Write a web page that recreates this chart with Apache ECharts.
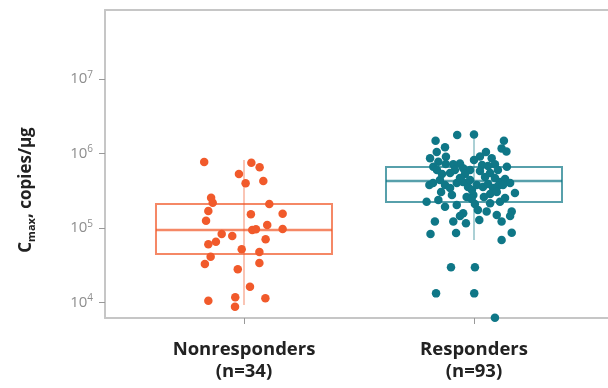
<!DOCTYPE html>
<html>
<head>
<meta charset="utf-8">
<script src="https://cdn.jsdelivr.net/npm/echarts@6/dist/echarts.min.js"></script>
<style>
  html, body { margin: 0; padding: 0; background: #fff; }
  #chart { width: 608px; height: 388px; }
</style>
</head>
<body>
<div id="chart"></div>
<script>
var categories = ['Nonresponders\n(n=34)', 'Responders\n(n=93)'];
var yTicks = [1e4, 1e5, 1e6, 1e7];

// [jittered x position, Cmax copies/µg]
var nonresponders = [
  [0.827, 7.68e5], [1.032, 7.52e5], [1.068, 6.52e5], [0.978, 5.30e5], [1.007, 3.98e5],
  [1.084, 4.27e5], [0.857, 2.55e5], [0.864, 2.19e5], [1.110, 2.10e5], [0.845, 1.69e5],
  [1.030, 1.53e5], [1.168, 1.56e5], [0.835, 1.25e5], [1.101, 1.10e5], [1.036, 9.41e4],
  [1.052, 9.62e4], [1.168, 9.70e4], [0.903, 8.32e4], [0.949, 7.82e4], [0.878, 6.56e4],
  [0.845, 6.05e4], [1.094, 7.06e4], [0.990, 5.19e4], [1.067, 4.77e4], [0.855, 4.13e4],
  [0.830, 3.29e4], [1.067, 3.40e4], [0.973, 2.80e4], [1.026, 1.63e4], [0.845, 1.06e4],
  [0.962, 1.18e4], [0.961, 8.81e3], [1.093, 1.14e4]
];

var responders = [
  [1.833, 1.48e6], [1.927, 1.77e6], [2.000, 1.79e6], [2.130, 1.48e6], [2.120, 1.17e6],
  [2.141, 1.06e6], [1.874, 1.21e6], [1.838, 1.05e6], [1.878, 9.05e5], [1.809, 8.61e5],
  [1.845, 7.75e5], [1.823, 6.64e5], [2.052, 1.05e6], [2.026, 9.10e5], [2.000, 8.17e5],
  [1.939, 7.33e5], [1.910, 7.15e5], [2.077, 8.61e5], [2.091, 7.15e5], [2.143, 6.64e5],
  [1.953, 6.32e5], [1.877, 7.22e5], [2.035, 7.00e5], [1.983, 6.00e5], [1.839, 6.00e5],
  [1.896, 5.47e5], [1.917, 6.00e5], [1.961, 5.30e5], [2.026, 5.82e5], [2.048, 4.83e5],
  [2.070, 5.47e5], [2.091, 4.69e5], [2.113, 4.14e5], [2.135, 4.54e5], [2.157, 4.02e5],
  [2.178, 2.95e5], [1.806, 3.78e5], [1.822, 4.02e5], [1.852, 4.41e5], [1.874, 3.78e5],
  [1.896, 3.44e5], [1.925, 4.02e5], [1.952, 4.14e5], [1.974, 3.55e5], [1.991, 3.24e5],
  [2.012, 3.78e5], [2.039, 3.55e5], [2.061, 3.89e5], [2.083, 3.44e5], [2.104, 3.66e5],
  [2.126, 3.78e5], [2.070, 2.86e5], [2.099, 3.04e5], [1.997, 2.77e5], [1.968, 2.61e5],
  [1.794, 2.25e5], [1.845, 2.38e5], [1.874, 1.93e5], [1.925, 2.04e5], [1.953, 1.58e5],
  [1.939, 1.45e5], [1.990, 2.45e5], [2.004, 2.10e5], [2.070, 2.15e5], [2.113, 2.25e5],
  [2.055, 1.66e5], [2.099, 1.50e5], [2.164, 1.66e5], [2.157, 1.45e5], [1.830, 1.22e5],
  [1.910, 1.22e5], [1.965, 1.16e5], [2.023, 1.28e5], [2.120, 1.22e5], [1.811, 8.32e4],
  [1.922, 8.58e4], [2.164, 8.66e4], [2.120, 6.91e4], [1.900, 2.97e4], [2.004, 2.97e4],
  [1.835, 1.33e4], [2.001, 1.33e4], [2.091, 6.27e3], [2.017, 1.75e5], [1.904, 2.77e5],
  [1.857, 3.04e5], [2.043, 2.61e5], [2.135, 2.53e5], [1.939, 4.69e5], [1.983, 4.41e5],
  [1.861, 5.30e5], [2.104, 6.00e5], [2.061, 6.79e5]
];

// [x, whisker low, Q1, median, Q3, whisker high]
var boxStats = [
  [1, 9.29e3, 4.49e4, 9.41e4, 2.10e5, 8.17e5],
  [2, 6.91e4, 2.23e5, 4.27e5, 6.58e5, 1.77e6]
];

var dotColors = ['#f15a2b', '#0f7787'];
var boxColors = ['rgba(241,90,43,0.72)', 'rgba(15,119,135,0.7)'];
var whiskerColors = ['rgba(241,90,43,0.35)', 'rgba(15,119,135,0.35)'];
var frameColor = '#c6c6c6';

var chart = echarts.init(document.getElementById('chart'));

var option = {
  animation: false,
  grid: {
    left: 105, top: 10, right: -40, bottom: 70,
    outerBoundsMode: 'none'
  },
  xAxis: [
    {
      type: 'value',
      min: 0.3957,
      max: 2.7565,
      splitLine: { show: false },
      axisLine: { show: true, lineStyle: { color: frameColor, width: 2 } },
      axisTick: { show: true, length: 6, customValues: [1, 2], lineStyle: { color: '#999', width: 1 } },
      axisLabel: {
        customValues: [1, 2],
        margin: 21,
        formatter: function (v) { return categories[Math.round(v) - 1]; },
        fontFamily: 'Open Sans',
        fontWeight: 'bold',
        fontSize: 18.5,
        lineHeight: 22,
        color: '#222'
      }
    },
    {
      // top frame line
      type: 'value',
      position: 'top',
      min: 0.3957,
      max: 2.7565,
      splitLine: { show: false },
      axisLine: { show: true, lineStyle: { color: frameColor, width: 2 } },
      axisTick: { show: false },
      axisLabel: { show: false }
    }
  ],
  yAxis: {
    type: 'log',
    logBase: 10,
    min: 6217,
    max: 8.39e7,
    splitLine: { show: false },
    axisLine: { show: true, lineStyle: { color: frameColor, width: 2 } },
    axisTick: { show: true, length: 6, customValues: yTicks, lineStyle: { color: '#999', width: 1 } },
    axisLabel: {
      customValues: yTicks,
      margin: 12,
      formatter: function (v) {
        return '{b|10}{s|' + Math.round(Math.log10(v)) + '}';
      },
      rich: {
        b: { fontFamily: 'Open Sans', fontSize: 15, color: '#8e8e8e', lineHeight: 18 },
        s: { fontFamily: 'Open Sans', fontSize: 10, color: '#8e8e8e', verticalAlign: 'top', lineHeight: 10 }
      }
    },
    name: '{a|C}{sub|max}{a|, copies/µg}',
    nameLocation: 'middle',
    nameRotate: 90,
    nameGap: 68,
    nameTextStyle: {
      padding: [0, 52, 0, 0],
      rich: {
        a: { fontFamily: 'Open Sans', fontWeight: 'bold', fontSize: 17, color: '#222', lineHeight: 22 },
        sub: { fontFamily: 'Open Sans', fontWeight: 'bold', fontSize: 11, color: '#222', verticalAlign: 'bottom', lineHeight: 15 }
      }
    }
  },
  series: [
    {
      type: 'custom',
      data: boxStats,
      encode: { x: 0, y: [1, 2, 3, 4, 5] },
      z: 1,
      renderItem: function (params, api) {
        var i = params.dataIndex;
        var x = api.value(0);
        var lo = api.coord([x, api.value(1)]);
        var q1 = api.coord([x, api.value(2)]);
        var md = api.coord([x, api.value(3)]);
        var q3 = api.coord([x, api.value(4)]);
        var hi = api.coord([x, api.value(5)]);
        var half = 88;
        return {
          type: 'group',
          children: [
            { type: 'line', shape: { x1: lo[0], y1: lo[1], x2: hi[0], y2: hi[1] },
              style: { stroke: whiskerColors[i], lineWidth: 2 } },
            { type: 'rect', shape: { x: q3[0] - half, y: q3[1], width: half * 2, height: q1[1] - q3[1] },
              style: { fill: 'none', stroke: boxColors[i], lineWidth: 2 } },
            { type: 'line', shape: { x1: md[0] - half, y1: md[1], x2: md[0] + half, y2: md[1] },
              style: { stroke: boxColors[i], lineWidth: 2.5 } }
          ]
        };
      }
    },
    {
      type: 'scatter',
      name: 'Nonresponders',
      data: nonresponders,
      symbolSize: 8.5,
      z: 3,
      itemStyle: { color: dotColors[0], opacity: 1 }
    },
    {
      type: 'scatter',
      name: 'Responders',
      data: responders,
      symbolSize: 8.5,
      z: 3,
      itemStyle: { color: dotColors[1], opacity: 1 }
    }
  ]
};

chart.setOption(option);
</script>
</body>
</html>
